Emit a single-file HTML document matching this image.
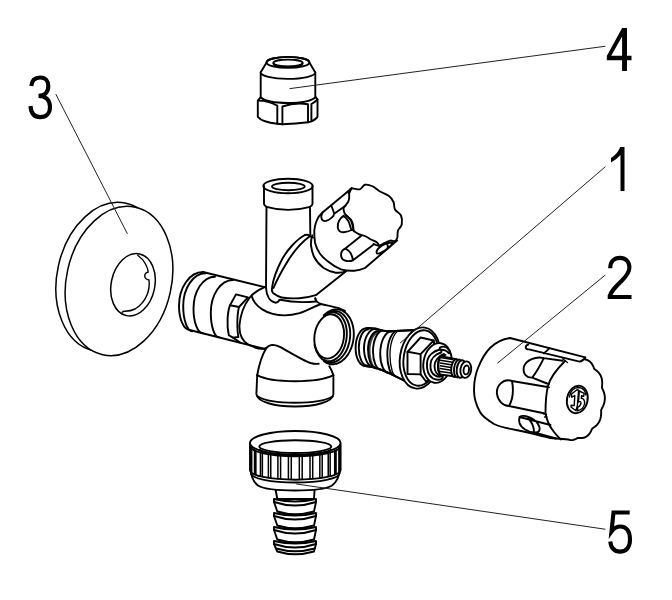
<!DOCTYPE html>
<html><head><meta charset="utf-8">
<style>
html,body{margin:0;padding:0;background:#fff;width:672px;height:600px;overflow:hidden}
svg{display:block}
.o{fill:#fff;stroke:#000;stroke-width:1.9;stroke-linejoin:round;stroke-linecap:round}
.n{fill:none;stroke:#000;stroke-width:1.9;stroke-linejoin:round;stroke-linecap:round}
.t{fill:none;stroke:#000;stroke-width:1.3;stroke-linecap:round;stroke-linejoin:round}
.ld{fill:none;stroke:#222;stroke-width:1;stroke-linecap:round}
.lab{font-family:"Liberation Sans",sans-serif;font-size:65px;fill:#000;stroke:#fff;stroke-width:0.8}
</style></head><body>
<svg width="672" height="600" viewBox="0 0 672 600">
<defs>
 <clipPath id="holeclip"><ellipse cx="133.2" cy="284.2" rx="21.5" ry="31.7" transform="rotate(12 133.2 284.2)"/></clipPath>
</defs>

<g id="disc">
 <ellipse class="o" style="stroke-width:1.5" cx="109.7" cy="277" rx="52.5" ry="75.5" transform="rotate(12.5 109.7 277)"/>
 <ellipse class="o" style="stroke-width:1.5" cx="119" cy="281" rx="52.5" ry="75.5" transform="rotate(12.5 119 281)"/>
 <ellipse class="o" style="stroke-width:1.5" cx="133" cy="284.8" rx="21.8" ry="31.5" transform="rotate(12 133 284.8)"/>
 <path class="n" style="stroke-width:1.4" d="M137.7,255.2 C141,257.5 143.5,260 145.5,264 C147.3,267.5 148.3,270 148,272.3 C146,272.5 144.5,274 144.8,276.5 C145,278.5 147,279.5 149,280 C149.5,284 149,290 147,295 C144.5,301 140,306 135,309 C131,311 127.5,311.2 125,311.3 C123.8,311.2 122.8,311.5 122.2,312.3"/>
</g>

<g id="nut">
 <path class="o" d="M257.8,100.6 L257.8,116.8 Q262,122 277.3,123.8 L282.4,124.3 Q296,124 308,122.3 L311.4,121.3 Q316,119.5 317.5,116.8 L317.5,99.5 L315.5,96.8 L261,96.8 Z"/>
 <path class="n" d="M257.8,100.6 Q268,100.5 277.3,105.6 L277.3,123.8 M282.4,106.5 Q295,102 308,104.2 L308,122.3 M311.4,104 Q315,102 317.5,99.5 M282.4,106.5 L282.4,124.3 M311.4,104 L311.4,121.3"/>
 <path class="o" d="M260.7,72.3 L260.7,97.3 C265,101.5 278,103 288,103 C300,103 311,101 315.3,97.5 L315.3,72.5 Z"/>
 <path class="o" d="M260.7,72.3 L266.6,62.4 A21.4,5.5 0 0 1 309.4,62.4 L315.3,72.5 A27.3,6.5 0 0 1 260.7,72.3 Z"/>
 <ellipse class="n" cx="288" cy="62.4" rx="21.4" ry="5.5"/>
 <ellipse class="n" cx="288" cy="63" rx="14.7" ry="3.4"/>
 <path class="n" d="M273.8,64 A14.5,3.6 0 0 0 302.2,64"/>
</g>

<g id="body"><ellipse class="n" cx="288" cy="186" rx="24.7" ry="7.3"/>
<ellipse class="n" cx="288.35" cy="186.5" rx="16.35" ry="3.7"/>
<path class="n" d="M264,186 L264,204 Q264.5,206 266.5,206.8 Q288,213 310,206.8 Q312,206 312.5,204 L312.5,186"/>
<path class="n" d="M266.5,206.8 L266,287.9 C266.5,296 270,302 275.7,302.7 C277.5,302.5 279,301 279.4,299.8"/>
<path class="n" d="M310,206.8 L310.3,234.5"/>
<path class="n" d="M305,235 C297,239 287,250 281.7,260 C277,269 273,280 272,287.9 C271.5,291 272.5,293 274.2,293.8 C277,296 280,297.3 281.7,297.5 C288,298.5 295,298.5 299.5,298.3 C305,298 310,297 315.8,295.2 L346,271.25"/>
<path class="n" d="M309.5,236.5 C302,242 293,252 286,264 C280,274 276,282 273.5,288"/>
<path class="n" d="M305,235 C307,234.5 308.5,235 309.5,235.8 L313,237.5"/>
<path class="n" d="M280.2,299.8 C290,302 305,302.5 315.8,301.5 C316,300 315.5,299 315.3,298.3"/>
<path class="n" d="M315.3,298.3 C315.5,301 318,303 321,304 C327,305.5 333,306.5 338.75,308.2 C341,309 343,310 345,310.8"/>
<path class="n" d="M203,272 L264.6,287.1"/>
<path class="n" d="M203,272 C189.75,272.00 179.00,287.23 179,306 C179.00,319.25 183.79,330.00 189.7,330"/>
<path class="n" d="M205.7,273.3 C193.28,273.30 183.20,287.95 183.2,306 C183.20,319.97 187.28,331.30 192.3,331.3"/>
<path class="n" d="M215,276.7 C203.13,276.70 193.50,291.04 193.5,308.7 C193.50,322.28 197.76,333.30 203,333.3"/>
<path class="n" d="M233,280 C220.75,280.00 210.80,294.65 210.8,312.7 C210.80,326.28 214.47,337.30 219,337.3"/>
<path class="n" d="M189.7,330 L265,349"/>
<path class="n" d="M230,305.2 L236,294.4 L248,297.4 L239,307 Z"/>
<path class="n" d="M230,305.2 C227.5,312 226.5,325 228.8,335.2 L233,337.6 L238.4,337 C237,330 236.8,315 239,307"/>
<path class="n" d="M233,337.6 L240,342.5"/>
<path class="n" d="M264.6,287.1 C258,290 252,294 249,298.5 C245,304 240.5,314 239.5,325 C239,334 242,341 248.6,344.8 C250.5,346 252.5,346.5 254.6,347"/>
<path class="n" d="M251.9,296.5 C252.5,299 253.5,301 254.9,302.7 C257,305.5 259.5,307.5 262.3,309.4 C265.5,311.5 269,313 272.7,313.9 C276.5,315 280.5,315.4 284.6,315.4 C290,315.4 295,314.5 299.5,313.2 C306,311 312,307.5 321,304"/>
<ellipse class="n" cx="329.2" cy="336.5" rx="14.7" ry="22.2" transform="rotate(8 329.2 336.5)"/>
<path class="n" d="M324.94,315.60 C325.20,315.41 325.98,314.79 326.50,314.44 C327.03,314.10 327.57,313.79 328.12,313.53 C328.66,313.27 329.21,313.04 329.76,312.87 C330.31,312.69 330.86,312.56 331.41,312.47 C331.96,312.39 332.52,312.34 333.06,312.34 C333.61,312.34 334.16,312.39 334.69,312.48 C335.23,312.57 335.76,312.71 336.28,312.89 C336.80,313.06 337.31,313.29 337.81,313.55 C338.31,313.82 338.80,314.13 339.27,314.47 C339.74,314.82 340.19,315.21 340.63,315.64 C341.07,316.07 341.49,316.54 341.89,317.04 C342.29,317.54 342.67,318.08 343.03,318.65 C343.39,319.22 343.73,319.83 344.04,320.46 C344.35,321.10 344.64,321.77 344.91,322.46 C345.17,323.15 345.41,323.87 345.62,324.61 C345.83,325.34 346.01,326.11 346.17,326.89 C346.33,327.67 346.46,328.47 346.56,329.28 C346.66,330.09 346.73,330.92 346.77,331.75 C346.82,332.59 346.83,333.44 346.82,334.28 C346.80,335.13 346.76,335.99 346.69,336.84 C346.62,337.69 346.51,338.55 346.39,339.40 C346.26,340.24 346.10,341.09 345.92,341.92 C345.73,342.76 345.52,343.59 345.28,344.40 C345.04,345.21 344.78,346.01 344.49,346.78 C344.20,347.56 343.89,348.33 343.55,349.06 C343.22,349.80 342.86,350.52 342.48,351.21 C342.10,351.90 341.70,352.56 341.28,353.19 C340.86,353.83 340.42,354.43 339.96,355.00 C339.51,355.57 339.04,356.11 338.55,356.61 C338.07,357.11 337.57,357.58 337.06,358.00 C336.55,358.43 336.02,358.81 335.50,359.16 C334.97,359.50 334.43,359.81 333.88,360.07 C333.34,360.33 332.79,360.56 332.24,360.73 C331.69,360.91 331.14,361.04 330.59,361.13 C330.04,361.21 329.48,361.26 328.94,361.26 C328.39,361.26 327.84,361.21 327.31,361.12 C326.77,361.03 326.24,360.89 325.72,360.71 C325.20,360.54 324.44,360.16 324.19,360.05"/>
<path class="n" d="M324.30,315.52 C324.57,315.28 325.40,314.53 325.96,314.10 C326.53,313.67 327.12,313.28 327.71,312.93 C328.29,312.58 328.90,312.28 329.50,312.02 C330.10,311.76 330.72,311.55 331.33,311.38 C331.94,311.22 332.56,311.10 333.17,311.02 C333.78,310.95 334.40,310.93 335.01,310.95 C335.62,310.97 336.22,311.04 336.82,311.15 C337.41,311.27 338.00,311.43 338.58,311.64 C339.16,311.85 339.73,312.10 340.28,312.40 C340.83,312.70 341.37,313.05 341.89,313.43 C342.41,313.82 342.92,314.25 343.41,314.72 C343.89,315.19 344.36,315.70 344.80,316.25 C345.24,316.80 345.66,317.38 346.06,318.00 C346.46,318.62 346.83,319.28 347.17,319.96 C347.52,320.65 347.84,321.36 348.13,322.11 C348.41,322.85 348.68,323.62 348.91,324.41 C349.14,325.20 349.34,326.02 349.51,326.85 C349.68,327.68 349.82,328.54 349.93,329.40 C350.04,330.26 350.12,331.15 350.16,332.03 C350.20,332.92 350.22,333.82 350.20,334.71 C350.18,335.61 350.12,336.52 350.04,337.42 C349.96,338.32 349.84,339.23 349.69,340.12 C349.55,341.01 349.37,341.90 349.16,342.78 C348.95,343.66 348.71,344.53 348.44,345.38 C348.18,346.23 347.88,347.07 347.55,347.88 C347.23,348.70 346.88,349.49 346.50,350.26 C346.12,351.03 345.72,351.78 345.29,352.50 C344.87,353.21 344.42,353.90 343.95,354.56 C343.48,355.21 342.99,355.84 342.48,356.43 C341.97,357.01 341.44,357.57 340.90,358.08 C340.36,358.59 339.80,359.07 339.24,359.50 C338.67,359.93 338.08,360.32 337.49,360.67 C336.91,361.02 336.30,361.32 335.70,361.58 C335.10,361.84 334.48,362.05 333.87,362.22 C333.26,362.38 332.64,362.50 332.03,362.58 C331.42,362.65 330.80,362.67 330.19,362.65 C329.58,362.63 328.98,362.56 328.38,362.45 C327.79,362.33 327.20,362.17 326.62,361.96 C326.04,361.75 325.20,361.32 324.92,361.20"/>
<path class="n" d="M323.67,315.58 C323.96,315.30 324.82,314.40 325.42,313.88 C326.02,313.35 326.64,312.86 327.27,312.42 C327.89,311.98 328.54,311.58 329.19,311.23 C329.84,310.89 330.51,310.58 331.17,310.33 C331.84,310.07 332.51,309.86 333.19,309.71 C333.86,309.55 334.54,309.44 335.22,309.39 C335.89,309.33 336.57,309.32 337.24,309.37 C337.91,309.41 338.58,309.50 339.23,309.65 C339.89,309.79 340.53,309.98 341.17,310.22 C341.80,310.46 342.43,310.76 343.03,311.09 C343.64,311.43 344.23,311.81 344.80,312.24 C345.37,312.67 345.92,313.15 346.45,313.66 C346.98,314.18 347.49,314.74 347.98,315.33 C348.46,315.93 348.92,316.57 349.35,317.24 C349.78,317.91 350.19,318.62 350.56,319.36 C350.93,320.10 351.28,320.88 351.59,321.68 C351.91,322.48 352.19,323.31 352.44,324.16 C352.69,325.00 352.90,325.88 353.08,326.77 C353.27,327.66 353.41,328.58 353.53,329.50 C353.64,330.42 353.72,331.36 353.76,332.31 C353.80,333.25 353.81,334.21 353.78,335.16 C353.75,336.12 353.69,337.08 353.59,338.04 C353.49,338.99 353.35,339.95 353.19,340.90 C353.02,341.85 352.81,342.79 352.58,343.71 C352.34,344.64 352.07,345.56 351.77,346.45 C351.47,347.35 351.14,348.23 350.77,349.09 C350.41,349.95 350.02,350.78 349.60,351.59 C349.18,352.40 348.73,353.18 348.25,353.93 C347.78,354.67 347.28,355.40 346.76,356.08 C346.24,356.76 345.69,357.41 345.13,358.02 C344.57,358.62 343.98,359.20 343.38,359.72 C342.78,360.25 342.16,360.74 341.53,361.18 C340.91,361.62 340.26,362.02 339.61,362.37 C338.96,362.71 338.29,363.02 337.63,363.27 C336.96,363.53 336.29,363.74 335.61,363.89 C334.94,364.05 334.26,364.16 333.58,364.21 C332.91,364.27 332.23,364.28 331.56,364.23 C330.89,364.19 330.22,364.10 329.57,363.95 C328.91,363.81 328.27,363.62 327.63,363.38 C327.00,363.14 326.37,362.84 325.77,362.51 C325.16,362.17 324.29,361.55 324.00,361.36"/>
<path class="n" d="M314.5,345 C316,352 320,359 327,362.5 C329,363.5 330.5,364 330.7,364.2"/>
<path class="n" d="M255,347.5 C259,349 262,349.5 266.2,348.2"/>
<path class="n" d="M266.2,348.2 C268,346 270,344.9 272.8,344.9 C276,345 278.5,346 281,347.4 C286,350.5 290,352.5 294,354.8 C300,358 305,361 310.5,363 C313,363.7 316,364 318.7,363.8"/>
<path class="n" d="M266.2,348.2 C262,355 259,365 257.2,375.2"/>
<path class="n" d="M329.3,366.2 C331,369 332.5,372 333.4,375.2"/>
<path class="n" d="M257.2,375.2 C265,379.5 280,381.3 295,381.3 C310,381.3 325,379.5 333.4,375.2"/>
<path class="n" d="M257.2,375.2 L256.4,394 C257,402 275,406.5 295,406.5 C315,406.5 333,402 333.4,394 L333.4,375.2"/>
<path class="n" d="M258,396.5 C265,401 280,402.8 295,402.8 C310,402.8 325,401 332.5,396.5"/></g>

<g id="small"><path class="n" d="M348.5,193 C349.00,192.25 349.63,189.12 351.5,188.5 C353.37,187.88 357.45,189.93 359.7,189.3 C361.95,188.68 362.87,185.26 365,184.75 C367.13,184.24 370.00,185.12 372.5,186.25 C375.00,187.38 377.25,189.88 380,191.5 C382.75,193.12 386.75,194.25 389,196 C391.25,197.75 392.50,199.75 393.5,202 C394.50,204.25 393.75,207.25 395,209.5 C396.25,211.75 399.88,213.00 401,215.5 C402.12,218.00 402.25,222.00 401.75,224.5 C401.25,227.00 398.75,228.25 398,230.5 C397.25,232.75 397.80,236.22 397.25,238 C396.70,239.78 395.86,240.77 394.7,241.2 C393.54,241.63 391.97,240.32 390.3,240.6 C388.63,240.88 386.57,242.05 384.7,242.9 C382.83,243.75 380.97,245.52 379.1,245.7 C377.23,245.88 374.43,244.28 373.5,244"/>
<path class="n" d="M351.7,188.3 C351.30,189.08 349.72,191.47 349.3,193 C348.88,194.53 349.37,196.05 349.2,197.5 C349.03,198.95 348.87,200.45 348.3,201.7 C347.73,202.95 346.58,203.95 345.8,205 C345.02,206.05 343.90,206.92 343.6,208 C343.30,209.08 343.68,210.37 344,211.5 C344.32,212.63 344.75,213.80 345.5,214.8 C346.25,215.80 347.47,216.47 348.5,217.5 C349.53,218.53 350.92,219.58 351.7,221 C352.48,222.42 352.90,224.42 353.2,226 C353.50,227.58 353.03,229.42 353.5,230.5 C353.97,231.58 355.00,231.83 356,232.5 C357.00,233.17 358.00,233.92 359.5,234.5 C361.00,235.08 363.08,235.17 365,236 C366.92,236.83 369.00,238.42 371,239.5 C373.00,240.58 375.65,241.47 377,242.5 C378.35,243.53 378.75,245.17 379.1,245.7"/>
<path class="n" d="M351.7,188.3 L322.5,212.5 C319.5,215 317.5,218 316.5,221 C315.2,224.5 314.4,227.5 314.3,230.7 C314.2,235 314.5,239 315,242.7 C316,246.5 317.5,250 319.7,253.3 C322,256.5 324.5,259 327.7,261.3 C331.5,264.5 336,267.5 341,269.3 C345,270.5 349.5,271 354.3,270.7 C358,270.5 361.5,269.5 365,268 L397,240.6"/>
<path class="n" d="M312.3,235.3 C311.2,238.5 310.8,242 311,245.3 C311.5,249.5 312.5,253.5 314.3,257.3 C316.5,261.5 319.5,265 323.7,268 C327.5,270.5 331.5,272 335.7,272.7 C339,273 342,273 346,271.25"/>
<path class="n" d="M334.2,213.75 L345.8,205.5 M322.5,212.5 C321,215.5 321,219 323,220.5 C325.5,222 329.5,220 333.3,216.2 L334.2,213.75 M331.3,205.5 C332.5,208.5 333.5,211 334.2,213.75"/>
<path class="n" d="M343.5,215.8 C339.5,218 337.3,223.5 337.8,227.5 C338.3,231 341,232.5 344,232.3 C347,232 349.5,231 351.7,230 M343.5,215.8 C347,218.5 349.2,222 350,225.5 C350.6,228 351,229 351.7,230 M345.8,215 C349.5,217.5 351.6,221 352.4,224.5 C353,227 353.2,229 353.5,230.5"/>
<path class="n" d="M345,248.7 L361,236 M353,260.3 L373,245 M345,248.7 C340,251 339.5,258.5 345,260.5 C348,261.5 351,261 353,260.3 M345,248.7 C349,250 352,254 353,260.3"/>
<path class="n" d="M376.9,253.5 C375,250 381,245.5 386,243.7 C389.5,242.5 392,242.5 392.8,242.6 C391.5,246 385.5,251 380.5,253 C378.8,253.6 377.5,253.8 376.9,253.5 Z M386,243.7 C387.6,244.2 388.2,245.6 387.6,247.5"/></g>

<g id="cart"><path class="o" d="M366.4,328.2 C360.44,328.20 355.60,337.07 355.6,348 C355.60,357.94 359.90,366.00 365.2,366 L373.6,367.2 L380.8,369.6 L389.2,373.2 L415,386 L415,330 L391.6,331.2 L383.2,330.6 L376,328.8 Z"/>
<path class="n" d="M368,329.5 C362.92,329.50 358.80,337.79 358.8,348 C358.80,357.66 362.47,365.50 367,365.5"/>
<path class="n" d="M376,328.8 C369.38,328.80 364.00,337.40 364,348 C364.00,358.60 368.30,367.20 373.6,367.2"/>
<path d="M378.5,331 C372.70,331.00 368.00,339.29 368,349.5 C368.00,359.99 371.81,368.50 376.5,368.5 L378.5,368.8  C374.08,368.80 370.50,360.60 370.5,350.5 C370.50,340.56 374.98,332.50 380.5,332.5 Z" fill="#000" opacity="0.75"/>
<path class="n" d="M378.5,331 C372.70,331.00 368.00,339.29 368,349.5 C368.00,359.99 371.81,368.50 376.5,368.5"/>
<path class="n" d="M383.2,330.6 C377.57,330.60 373.00,340.01 373,351.6 C373.00,361.54 376.49,369.60 380.8,369.6"/>
<path class="n" d="M391.6,331.2 C385.31,331.20 380.20,341.41 380.2,354 C380.20,364.60 384.23,373.20 389.2,373.2"/>
<path class="n" d="M398,330.6 C392.09,330.60 387.30,341.31 387.3,354.5 C387.30,366.09 390.53,375.50 394.5,375.5"/>
<path class="t" d="M400.5,330.4 C394.70,330.40 390.00,341.42 390,355 C390.00,367.14 393.14,377.00 397,377"/>
<path class="n" d="M366.4,328.2 C370,327.5 373,328.3 376,328.8 C379,329.5 381,330.3 383.2,330.6 C386,331 389,331.5 391.6,331.2 L415,330 M365.2,366 C368,366.5 371,366.8 373.6,367.2 C376,367.7 378.5,368.8 380.8,369.6 C384,370.8 386.5,372 389.2,373.2 L415,386"/>
<ellipse class="o" cx="420" cy="358" rx="20" ry="30.8" transform="rotate(9 420 358)"/>
<ellipse class="n" cx="421" cy="358" rx="17.3" ry="28" transform="rotate(9 421 358)"/>
<path class="o" d="M407.5,351.8 L420.6,337.5 L433.7,340.5 L436,356 L432,378 L426,381.5 L420.6,374.4 L407.5,374 Z"/>
<path class="n" d="M407.5,351.8 L420.6,354.1 L433.7,340.5 M420.6,354.1 L420.6,374.4"/>
<ellipse class="o" cx="437.5" cy="363" rx="14" ry="20" transform="rotate(10 437.5 363)"/>
<path class="n" d="M440,349.5 C433,351 427.5,356 427,363 C426.5,370 429,376 433,378.5 C436,380 439.5,380 442,378.8 C443,378 443,376.5 442,376 C440.5,376.8 438,376.8 436,376 C432.5,374.5 430,370 430.5,364 C431,358 436,354 441,352.5 C442,351.5 441.5,350 440,349.5 Z"/>
<path class="n" d="M440,347.5 C443,346 447,347 449.5,350.5 C450,352 449.8,353 449,353.3 C447,351 443.5,349.5 440.5,349.8 C439.5,349 439.5,348 440,347.5 Z"/>
<path class="n" d="M444,354 C438.5,356 434.5,361 434.5,366 C434.5,371.5 437.5,375.5 441.5,376.5 M445.5,355 C441,357 438,361.5 438,366 C438,371 440.5,374.5 443.5,375.5"/>
<path class="o" d="M440.7,356.1 L455,359 L455,376.5 L439.8,374.4 C437.5,370 437.5,360 440.7,356.1 Z"/>
<path class="n" style="stroke-width:1.5" d="M440.3,357.6 L452.5,359.5 M440.3,360.3 L452.5,362.2 M440.3,363 L452.5,364.9 M440.3,365.8 L452.5,367.7 M440.3,368.6 L452.5,370.5 M440.3,371.4 L452.5,373.3"/>
<path class="n" d="M440.7,356.1 C437.5,360 437.5,370 439.8,374.4"/>
<ellipse class="o" cx="455.5" cy="368" rx="4.2" ry="9" transform="rotate(8 455.5 368)"/>
<ellipse class="o" cx="458.3" cy="368.5" rx="4.2" ry="9" transform="rotate(8 458.3 368.5)"/>
<ellipse class="o" cx="461.2" cy="369" rx="4.4" ry="8.8" transform="rotate(8 461.2 369)"/>
<ellipse class="o" cx="465.8" cy="369.6" rx="5.4" ry="8.3" transform="rotate(8 465.8 369.6)"/>
<ellipse class="n" cx="466.3" cy="369.9" rx="2.7" ry="4.5" transform="rotate(8 466 369.9)"/></g>

<g id="handle"><path class="o" d="M510,338 L585.3,357.4 L585.21,359.57 L586.75,359.90 L588.22,360.50 L589.60,361.39 L590.84,362.54 L591.93,363.93 L592.86,365.51 L593.63,367.23 L594.27,369.04 L595.71,369.97 L597.13,371.06 L598.44,372.33 L599.61,373.79 L600.60,375.45 L601.36,377.29 L601.88,379.27 L602.16,381.35 L602.23,383.49 L602.10,385.66 L601.94,387.80 L602.86,389.65 L603.67,391.61 L604.30,393.66 L604.71,395.78 L604.87,397.94 L604.77,400.12 L604.39,402.27 L603.77,404.36 L602.95,406.37 L601.97,408.28 L601.10,410.15 L601.19,412.35 L601.13,414.54 L600.87,416.69 L600.39,418.76 L599.67,420.72 L598.73,422.51 L597.59,424.12 L596.27,425.53 L594.83,426.74 L593.32,427.77 L591.99,428.91 L591.21,430.72 L590.29,432.43 L589.23,433.99 L588.02,435.33 L586.67,436.42 L585.21,437.24 L583.67,437.78 L582.10,438.04 L580.51,438.06 L578.96,437.87 L577.50,437.99 L576.11,438.84 L574.64,439.51 L573.13,439.95 L571.59,440.11 L570.06,439.99 L568.57,439.56 L550,438 C540,436 528,432 516,430 C505,428 498,426 494,424 C486,419 482,416 480,412 C476,405 474,397 474,390 C474,380 476,373 478,368 C482,358 486,352 490,348 C496,342 503,339 510,338 Z"/>
<path class="n" d="M565,361 C557,369 550,378 548,386 C546,394 545.5,405 545.5,413 C546.5,420 550,427 554,432 C556.5,435 558.5,437.5 561,439.5"/>
<path class="t" d="M546.3,383 L549,384.5 M547,386 L549.3,387.4 M543.8,414 L546.5,414.4 M544.5,417 L547,417"/>
<path class="n" d="M529,349.4 L579.5,361.6 C582.5,361.2 584,359.5 585.3,357.6 M528.3,344.6 C524.5,345.5 525,349.5 529,349.4 M549.2,348.3 C547.5,350.2 545.5,352.2 543.8,353.2"/>
<path class="t" d="M562.6,358.8 L567.5,362.5"/>
<path class="n" d="M543.8,358.1 L562.6,360.8 M532.2,377.6 L547,383.5 M543.8,358.1 C536,356 526,360 523.8,367 C522.5,374 527,378 532.2,377.6 M543.8,358.1 C541,364 536.5,372 532.2,377.6"/>
<path class="n" d="M512,381 L547.5,387 M509,406 L545,413.5 M512,381 C503,378 496,386 497,394 C498,401 503,406 509,406 M512,381 C513.5,389 513,399 509,406"/>
<path class="n" d="M519.5,417 L550.5,425 M534,432.5 L556,438.5 M519.5,417 C524,414 534,418 538,424 C541,429 540,433 534,432.5 C528,432 521,428 519.5,423 C519,421 519,419 519.5,417 M528,418.5 C532,422 534,428 534,432.5"/>
<ellipse class="n" cx="577.3" cy="399.5" rx="10.3" ry="13.9" transform="rotate(12 577.3 399.5)"/>
<path class="t" d="M569.5,397 C570,391 574,387.5 578.5,387.5 C583,387.8 585.5,391 585.8,395"/>
<path class="t" style="stroke-width:1.4" d="M571.5,394 L577,389.8 L578.6,390.2 L577.4,405.5 L576,410.8 L571,407 L571.2,405.2 L574.2,405.6 L574.8,395.5 L571.8,397.2 Z"/>
<path class="t" style="stroke-width:1.4" d="M579.3,391 L584.2,393.3 L583.6,396.3 L581.6,395.6 L581.3,398.3 C583.5,398.5 585,400.5 584.6,403.5 C584,407 581,410 577.5,410.8 L577.6,407.5 C579.5,406.5 581,405 581,403 C581,401.5 579.8,401.3 578.5,402 Z"/></g>

<g id="hose"><path class="o" d="M275.3,488 L277.3,499 L314,499 L314.7,488 Z"/>
<path class="o" d="M274,499 Q295,504 316,499 L316,502 L314,511.5 Q295,517.0 277.3,511.5 L274,502 Z"/>
<path class="n" d="M274,502 Q295,509 316,502"/>
<path class="o" d="M274,513 Q295,518 316,513 L316,516 L314,525.5 Q295,531.0 277.3,525.5 L274,516 Z"/>
<path class="n" d="M274,516 Q295,523 316,516"/>
<path class="o" d="M274,527 Q295,532 316,527 L316,530 L314,539.5 Q295,545.0 277.3,539.5 L274,530 Z"/>
<path class="n" d="M274,530 Q295,537 316,530"/>
<path class="o" d="M274,541 Q295,546 316,541 L316,544 L314,551.5 Q295,557.0 277.3,551.5 L274,544 Z"/>
<path class="n" d="M274,544 Q295,551 316,544"/>
<path class="n" d="M276.3,548.5 Q295,554 314.7,548.5"/>
<path class="o" d="M250.5,468 C251,476 253,482 258,485.5 C264,489 276,490.5 295.3,490.5 C314,490.5 326,489 332,485.5 C337,482 339.5,476 340.2,468 Z"/>
<path class="o" d="M250,444.3 L250,470.3 A45.3,9.4 0 0 0 340.6,470.3 L340.6,444.3 Z"/>
<path class="n" d="M251,473.3 A44.3,9.2 0 0 0 339.6,473.3"/>
<path class="t" style="stroke-width:1.5" d="M299.32,455.66 L299.32,479.16 M302.20,455.58 L302.20,479.09 M310.00,455.14 L310.00,478.69 M312.71,454.90 L312.71,478.48 M319.83,454.04 L319.83,477.70 M322.21,453.67 L322.21,477.36 M328.23,452.44 L328.23,476.26 M330.15,451.94 L330.15,475.81 M334.72,450.43 L334.72,474.43 M336.06,449.84 L336.06,473.90 M338.91,448.11 L338.91,472.34 M339.61,447.46 L339.61,471.76 M250.99,447.46 L250.99,471.76 M251.69,448.11 L251.69,472.34 M254.54,449.84 L254.54,473.90 M255.88,450.43 L255.88,474.43 M260.45,451.94 L260.45,475.81 M262.37,452.44 L262.37,476.26 M268.39,453.67 L268.39,477.36 M270.77,454.04 L270.77,477.70 M277.89,454.90 L277.89,478.48 M280.60,455.14 L280.60,478.69 M288.40,455.58 L288.40,479.09 M291.28,455.66 L291.28,479.16"/>
<ellipse class="o" cx="295.3" cy="443" rx="45.3" ry="12"/>
<path class="n" d="M250.3,446 A45,10.4 0 0 0 340.3,446"/>
<ellipse class="n" cx="295.3" cy="446.6" rx="36" ry="6.4"/>
<path class="n" d="M260,450 A35.5,5.5 0 0 0 330.6,450"/>
</g>
<path class="ld" d="M290,88.6 L605,46.3 M56,94.5 L127.2,233.4 M605,167 L400.3,342.9 M605,275.3 L497.7,363 M296.6,484 L605,529.2"/>
<g id="labels">
 <path fill="#000" fill-rule="evenodd" d="M622.1,27.9 L627,27.9 L627,55.8 L631.5,55.8 L631.5,60.3 L627,60.3 L627,71.1 L622.1,71.1 L622.1,60.3 L606.8,60.3 L606.8,56 Z M622.1,36.4 L622.1,55.8 L611.2,55.8 Z"/>
 <path fill="#000" d="M620.5,147 L624.5,147 L624.5,191 L620.5,191 L620.5,155 Q616.5,159.5 611,162.5 L611,158 Q617.5,154 620.3,147 Z"/>
 <g fill="none" stroke="#000" stroke-width="4.1" stroke-linecap="butt" stroke-linejoin="miter">
  <path d="M610.2,268.2 C610.2,261.5 614.5,257.9 619.8,257.9 C625.5,257.9 629.4,261.8 629.4,267.5 C629.4,272 627,275.5 622,280.5 C616,286.5 610,292 609.8,297 M607.7,297 L631.5,297"/>
  <path d="M31.3,86 C31.8,80 35.5,77.5 40.3,77.5 C45.5,77.5 48.3,81 48.3,86 C48.3,92 44.5,95.9 38.5,95.9 C45.5,95.9 50,100 50,107 C50,113.5 46,117.1 40.3,117.1 C34.5,117.1 31,113.5 30.5,106"/>
  <path d="M629.7,512.5 L613.5,512.5 L611.5,531.5 C614,528 617,526.5 620.5,526.5 C626.5,526.5 630,531.5 630,539.5 C630,547.5 626,551.6 620,551.6 C614.5,551.6 610.8,548 610.3,541.5"/>
 </g>
</g>
</svg>
</body></html>
